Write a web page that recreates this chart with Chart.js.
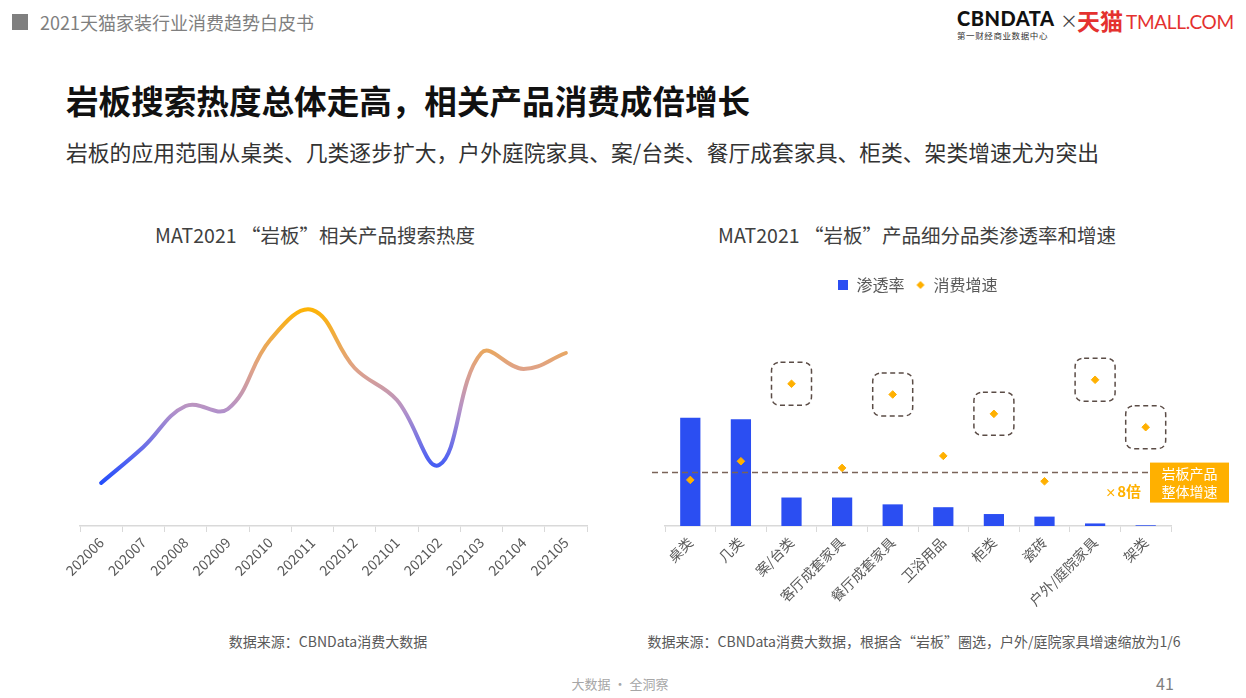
<!DOCTYPE html>
<html><head><meta charset="utf-8">
<script src="https://cdn.jsdelivr.net/npm/chart.js@4.4.0/dist/chart.umd.min.js"></script>
<style>
body{margin:0;background:#fff;}
#page{position:relative;width:1246px;height:698px;overflow:hidden;font-family:"Noto Sans CJK SC","Noto Sans",sans-serif;background:#fff;}
.abs{position:absolute;white-space:nowrap;}
canvas{position:absolute;}
</style></head><body><div id="page">
<div class="abs" style="left:12px;top:14px;width:16px;height:16px;background:#7f7f7f"></div>
<div class="abs" style="left:40px;top:8px;font-size:18px;line-height:28px;color:#7f7f7f">2021天猫家装行业消费趋势白皮书</div>
<div class="abs" style="left:957px;top:5px;font-family:Lato,'DejaVu Sans',sans-serif;font-weight:900;font-size:20px;line-height:26px;color:#111;letter-spacing:0.5px">CBNDATA</div>
<div class="abs" style="left:957px;top:30px;font-size:8.5px;line-height:11px;color:#333;letter-spacing:0.6px">第一财经商业数据中心</div>
<div class="abs" style="left:1060px;top:8px;font-size:18px;line-height:24px;color:#444">×</div>
<div class="abs" style="left:1077px;top:5px;font-size:23px;line-height:30px;color:#e4312f;font-weight:bold">天猫</div>
<div class="abs" style="left:1126px;top:9px;font-family:Lato,'DejaVu Sans',sans-serif;font-size:19px;line-height:26px;color:#e4312f;letter-spacing:-0.3px">TMALL.COM</div>

<div class="abs" style="left:66px;top:79px;font-size:32.6px;line-height:42px;font-weight:bold;color:#111">岩板搜索热度总体走高，相关产品消费成倍增长</div>
<div class="abs" style="left:66px;top:137px;font-size:21.8px;line-height:30px;color:#333">岩板的应用范围从桌类、几类逐步扩大，户外庭院家具、案/台类、餐厅成套家具、柜类、架类增速尤为突出</div>

<div class="abs" style="left:315px;top:222px;transform:translateX(-50%);font-size:19.5px;line-height:26px;color:#404040">MAT2021 “岩板”相关产品搜索热度</div>
<div class="abs" style="left:917px;top:222px;transform:translateX(-50%);font-size:19.5px;line-height:26px;color:#404040">MAT2021 “岩板”产品细分品类渗透率和增速</div>

<canvas id="c1" width="580" height="366" style="left:40px;top:260px;width:580px;height:366px"></canvas>
<canvas id="c2" width="626" height="360" style="left:620px;top:266px;width:626px;height:360px"></canvas>

<div class="abs" style="left:328px;top:631px;transform:translateX(-50%);font-size:14px;line-height:20px;color:#595959">数据来源：CBNData消费大数据</div>
<div class="abs" style="left:914px;top:631px;transform:translateX(-50%);font-size:14px;line-height:20px;color:#595959">数据来源：CBNData消费大数据，根据含“岩板”圈选，户外/庭院家具增速缩放为1/6</div>
<div class="abs" style="left:620px;top:675px;transform:translateX(-50%);font-size:13px;line-height:18px;color:#a6a6a6">大数据 · 全洞察</div>
<div class="abs" style="left:1156px;top:672px;font-size:16px;line-height:22px;color:#7f7f7f">41</div>
</div>
<script>
// ---- data ----
const months = ['202006','202007','202008','202009','202010','202011','202012','202101','202102','202103','202104','202105'];
const searchHeat = [43, 79, 120, 117, 186, 216, 158, 126, 61, 173, 157, 173];

const categories = ['桌类','几类','案/台类','客厅成套家具','餐厅成套家具','卫浴用品','柜类','瓷砖','户外/庭院家具','架类'];
const penetration = [38.0, 37.5, 10.0, 10.0, 7.6, 6.6, 4.2, 3.3, 0.9, 0.25];
const growth = [6.9, 9.7, 21.3, 8.7, 19.7, 10.5, 16.8, 6.7, 21.9, 14.8];
const highlighted = [2, 4, 6, 8, 9];
const overallGrowth = 8;
const refBoxLines = ['岩板产品', '整体增速'];
const seriesNames = ['渗透率', '消费增速'];

const FAMILY = "'Noto Sans CJK SC','Noto Sans',sans-serif";
Chart.defaults.font.family = FAMILY;
Chart.defaults.animation = false;

const BLUE = '#2b4ef2', ORANGE = '#ffb000';

function xAxis(fontSize){
  return {
    offset: true,
    grid: {display: true, drawOnChartArea: false, drawTicks: true, tickLength: 6, color: '#d9d9d9', offset: true, lineWidth: 1},
    border: {display: true, color: '#d9d9d9', width: 1.5},
    ticks: {color: '#595959', font: {size: fontSize, family: FAMILY}, maxRotation: 45, minRotation: 45, autoSkip: false, padding: 2},
    afterFit(s){ s.height = 100; }
  };
}

// ---- left chart ----
new Chart(document.getElementById('c1'), {
  type: 'line',
  data: {labels: months, datasets: [{
    data: searchHeat,
    borderWidth: 4,
    tension: 0.4,
    pointRadius: 0,
    borderCapStyle: 'round',
    borderColor(ctx){
      const chart = ctx.chart; const ca = chart.chartArea;
      if (!ca) return '#b592c8';
      const y = chart.scales.y;
      const g = chart.ctx.createLinearGradient(0, y.getPixelForValue(35), 0, y.getPixelForValue(220));
      g.addColorStop(0, '#1447ff');
      g.addColorStop(0.2, '#5d68ee');
      g.addColorStop(0.44, '#b592c8');
      g.addColorStop(0.66, '#dfa288');
      g.addColorStop(1, '#ffb400');
      return g;
    }
  }]},
  options: {
    responsive: false,
    layout: {padding: {left: 40, right: 33, top: 16, bottom: 0}},
    plugins: {legend: {display: false}, tooltip: {enabled: false}},
    scales: {
      x: xAxis(14),
      y: {display: false, min: 0, max: 250}
    }
  }
});

// ---- right chart ----
function iconCanvas(kind){
  const c = document.createElement('canvas'); c.width = 10; c.height = 10;
  const g = c.getContext('2d');
  if (kind === 'rect'){ g.fillStyle = BLUE; g.fillRect(0, 0, 10, 10); }
  else { g.fillStyle = ORANGE; g.beginPath(); g.moveTo(5, 1); g.lineTo(9, 5); g.lineTo(5, 9); g.lineTo(1, 5); g.closePath(); g.fill(); }
  return c;
}
const icons = [iconCanvas('rect'), iconCanvas('diamond')];

function roundRect(ctx, x, y, w, h, r){
  ctx.beginPath();
  ctx.moveTo(x + r, y);
  ctx.lineTo(x + w - r, y); ctx.quadraticCurveTo(x + w, y, x + w, y + r);
  ctx.lineTo(x + w, y + h - r); ctx.quadraticCurveTo(x + w, y + h, x + w - r, y + h);
  ctx.lineTo(x + r, y + h); ctx.quadraticCurveTo(x, y + h, x, y + h - r);
  ctx.lineTo(x, y + r); ctx.quadraticCurveTo(x, y, x + r, y);
  ctx.closePath();
}

const annot = {
  id: 'annot',
  afterDatasetsDraw(chart){
    const {ctx, chartArea, scales} = chart;
    const lineY = scales.yG.getPixelForValue(overallGrowth);
    ctx.save();
    ctx.setLineDash([6, 4]); ctx.strokeStyle = '#7a6358'; ctx.lineWidth = 1.5;
    ctx.beginPath(); ctx.moveTo(chartArea.left - 13, lineY); ctx.lineTo(chartArea.right - 22, lineY); ctx.stroke();
    const meta = chart.getDatasetMeta(1);
    ctx.setLineDash([5, 3.5]); ctx.strokeStyle = '#5b4c46'; ctx.lineWidth = 1.5;
    highlighted.forEach(i => { const p = meta.data[i]; roundRect(ctx, p.x - 20, p.y - 21.5, 40, 43, 9); ctx.stroke(); });
    ctx.setLineDash([]);
    const bx = chartArea.right - 21, by = lineY - 10;
    ctx.fillStyle = ORANGE; ctx.fillRect(bx, by, 79, 40);
    ctx.fillStyle = '#fff'; ctx.font = '14px ' + FAMILY; ctx.textAlign = 'center'; ctx.textBaseline = 'middle';
    ctx.fillText(refBoxLines[0], bx + 39.5, by + 11);
    ctx.fillText(refBoxLines[1], bx + 39.5, by + 29);
    ctx.fillStyle = ORANGE; ctx.textAlign = 'right';
    ctx.font = 'bold 15px ' + FAMILY;
    const t = overallGrowth + '倍';
    ctx.fillText(t, bx - 9, by + 29);
    const tw = ctx.measureText(t).width;
    ctx.font = 'bold 11px ' + FAMILY;
    ctx.fillText('×', bx - 10 - tw, by + 30);
    ctx.restore();
  }
};

new Chart(document.getElementById('c2'), {
  type: 'bar',
  data: {labels: categories, datasets: [
    {type: 'bar', label: seriesNames[0], data: penetration, backgroundColor: BLUE, yAxisID: 'yP', barPercentage: 0.4, categoryPercentage: 1.0, order: 2},
    {type: 'line', label: seriesNames[1], data: growth, yAxisID: 'yG', showLine: false, pointStyle: 'rectRot', pointRadius: 3.8, pointBorderWidth: 1, pointBackgroundColor: ORANGE, pointBorderColor: ORANGE, order: 1}
  ]},
  options: {
    responsive: false,
    layout: {padding: {left: 45, right: 75, top: 0, bottom: 0}},
    plugins: {
      tooltip: {enabled: false},
      legend: {
        display: true, position: 'top',
        labels: {
          usePointStyle: true, boxWidth: 10, boxHeight: 10, padding: 11,
          color: '#595959', font: {size: 16, family: FAMILY},
          generateLabels(chart){
            return chart.data.datasets.map((ds, i) => ({text: ds.label, pointStyle: icons[i], fillStyle: 'transparent', strokeStyle: 'transparent', lineWidth: 0, hidden: false, datasetIndex: i, fontColor: '#595959'}));
          }
        }
      }
    },
    scales: {
      x: xAxis(14),
      yP: {display: false, min: 0, max: 78.3},
      yG: {display: false, min: 0, max: 33.4}
    }
  },
  plugins: [annot]
});
</script>
</body></html>
